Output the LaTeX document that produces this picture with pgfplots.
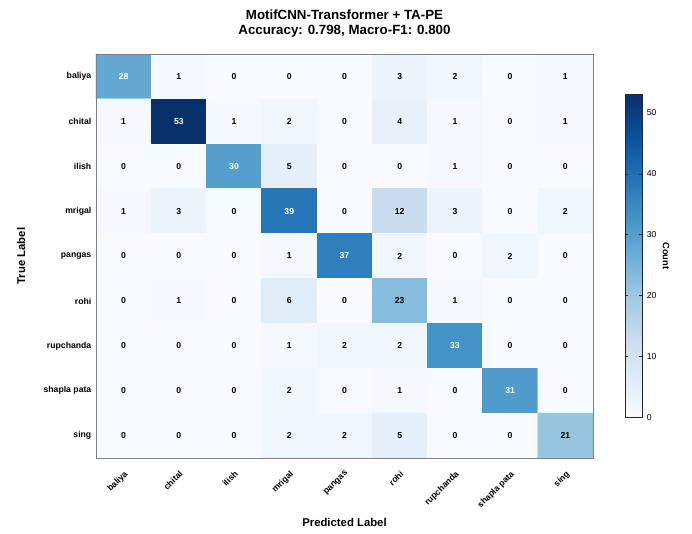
\documentclass[border=0pt]{standalone}
\usepackage{fontspec}
\setmainfont{Liberation Sans}
\usepackage{pgfplots}
\pgfplotsset{compat=1.18}
\pgfplotsset{/pgf/number format/assume math mode=true}
\pgfplotsset{colormap={blues}{rgb255=(247,251,255) rgb255=(222,235,247) rgb255=(198,219,239) rgb255=(158,202,225) rgb255=(107,174,214) rgb255=(66,146,198) rgb255=(33,113,181) rgb255=(8,81,156) rgb255=(8,48,107)}}
\begin{document}
\begin{tikzpicture}
\begin{axis}[
  scale only axis, width=372.75pt, height=303pt,
  axis on top,
  xmin=-0.5, xmax=8.5, ymin=-0.5, ymax=8.5, y dir=reverse,
  xtick={0,...,8}, ytick={0,...,8},
  xticklabels={baliya,chital,ilish,mrigal,pangas,rohi,rupchanda,shapla pata,sing},
  yticklabels={baliya,chital,ilish,mrigal,pangas,rohi,rupchanda,shapla pata,sing},
  xticklabel style={rotate=45, anchor=north east, font=\bfseries\fontsize{6.5}{7}\selectfont, inner sep=2pt},
  xticklabel shift=6pt,
  yticklabel style={font=\bfseries\fontsize{6.5}{7}\selectfont},
  major tick length=0pt,
  axis line style={draw=gray, line width=0.7pt},
  xlabel={Predicted Label}, ylabel={True Label},
  xlabel style={font=\bfseries\fontsize{8.5}{10}\selectfont, yshift=-0.5pt},
  ylabel style={font=\bfseries\fontsize{8.5}{10}\selectfont, yshift=7pt},
  title={MotifCNN-Transformer + TA-PE\\Accuracy: 0.798, Macro-F1: 0.800},
  title style={font=\bfseries\fontsize{10}{11.5}\selectfont, align=center, yshift=3pt},
  colormap name=blues,
  point meta min=0, point meta max=53,
  colorbar,
  colorbar style={
    at={(parent axis.east)}, anchor=west, xshift=15.5pt,
    width=12.75pt, height=242pt,
    ytick={0,10,20,30,40,50},
    yticklabel style={font=\fontsize{6.5}{7}\selectfont},
    major tick length=2.5pt,
    ytick style={draw=black!80, line width=0.4pt},
    axis line style={draw=black!85, line width=0.7pt},
    ylabel={Count},
    ylabel style={font=\bfseries\fontsize{7}{8}\selectfont, rotate=180, yshift=-2pt},
  },
]
\addplot[matrix plot*, mesh/cols=9, point meta=explicit] table[meta=c] {
x y c
0 0 28
1 0 1
2 0 0
3 0 0
4 0 0
5 0 3
6 0 2
7 0 0
8 0 1
0 1 1
1 1 53
2 1 1
3 1 2
4 1 0
5 1 4
6 1 1
7 1 0
8 1 1
0 2 0
1 2 0
2 2 30
3 2 5
4 2 0
5 2 0
6 2 1
7 2 0
8 2 0
0 3 1
1 3 3
2 3 0
3 3 39
4 3 0
5 3 12
6 3 3
7 3 0
8 3 2
0 4 0
1 4 0
2 4 0
3 4 1
4 4 37
5 4 2
6 4 0
7 4 2
8 4 0
0 5 0
1 5 1
2 5 0
3 5 6
4 5 0
5 5 23
6 5 1
7 5 0
8 5 0
0 6 0
1 6 0
2 6 0
3 6 1
4 6 2
5 6 2
6 6 33
7 6 0
8 6 0
0 7 0
1 7 0
2 7 0
3 7 2
4 7 0
5 7 1
6 7 0
7 7 31
8 7 0
0 8 0
1 8 0
2 8 0
3 8 2
4 8 2
5 8 5
6 8 0
7 8 0
8 8 21
};
\addplot[only marks, mark=none, point meta=explicit,
  visualization depends on={value \thisrow{c} \as \cval},
  nodes near coords={\pgfmathtruncatemacro{\w}{\cval>26.5}\ifnum\w=1 \color{white}\fi\pgfmathprintnumber{\cval}},
  nodes near coords align=center,
  every node near coord/.append style={font=\bfseries\fontsize{6.5}{7}\selectfont, anchor=center},
] table[meta=c] {
x y c
0 0 28
1 0 1
2 0 0
3 0 0
4 0 0
5 0 3
6 0 2
7 0 0
8 0 1
0 1 1
1 1 53
2 1 1
3 1 2
4 1 0
5 1 4
6 1 1
7 1 0
8 1 1
0 2 0
1 2 0
2 2 30
3 2 5
4 2 0
5 2 0
6 2 1
7 2 0
8 2 0
0 3 1
1 3 3
2 3 0
3 3 39
4 3 0
5 3 12
6 3 3
7 3 0
8 3 2
0 4 0
1 4 0
2 4 0
3 4 1
4 4 37
5 4 2
6 4 0
7 4 2
8 4 0
0 5 0
1 5 1
2 5 0
3 5 6
4 5 0
5 5 23
6 5 1
7 5 0
8 5 0
0 6 0
1 6 0
2 6 0
3 6 1
4 6 2
5 6 2
6 6 33
7 6 0
8 6 0
0 7 0
1 7 0
2 7 0
3 7 2
4 7 0
5 7 1
6 7 0
7 7 31
8 7 0
0 8 0
1 8 0
2 8 0
3 8 2
4 8 2
5 8 5
6 8 0
7 8 0
8 8 21
};
\end{axis}
\path (-72pt,-56.25pt) rectangle (447pt,343.5pt);
\end{tikzpicture}
\end{document}
